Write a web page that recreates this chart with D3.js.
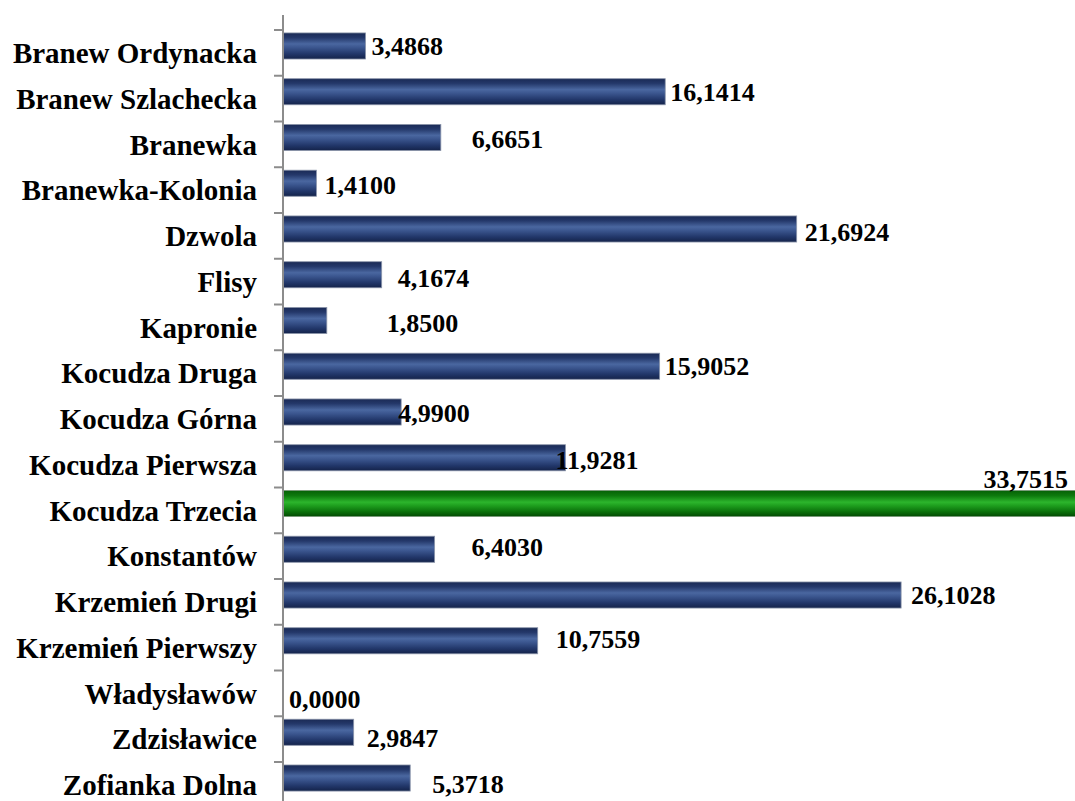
<!DOCTYPE html>
<html>
<head>
<meta charset="utf-8">
<script src="https://cdn.jsdelivr.net/npm/d3@7"></script>
<style>
  html, body { margin: 0; padding: 0; background: #ffffff; }
  svg { display: block; }
</style>
</head>
<body>
<svg id="chart" width="1075" height="801"></svg>
<script>
// ---- data ----
const categories = [
  "Branew Ordynacka", "Branew Szlachecka", "Branewka", "Branewka-Kolonia",
  "Dzwola", "Flisy", "Kapronie", "Kocudza Druga", "Kocudza Górna",
  "Kocudza Pierwsza", "Kocudza Trzecia", "Konstantów", "Krzemień Drugi",
  "Krzemień Pierwszy", "Władysławów", "Zdzisławice", "Zofianka Dolna"
];
const values = [
  3.4868, 16.1414, 6.6651, 1.4100, 21.6924, 4.1674, 1.8500, 15.9052, 4.9900,
  11.9281, 33.7515, 6.4030, 26.1028, 10.7559, 0.0000, 2.9847, 5.3718
];
const valueLabels = [
  "3,4868", "16,1414", "6,6651", "1,4100", "21,6924", "4,1674", "1,8500", "15,9052", "4,9900",
  "11,9281", "33,7515", "6,4030", "26,1028", "10,7559", "0,0000", "2,9847", "5,3718"
];
const highlighted = ["Kocudza Trzecia"];

// ---- layout (label nudges as placed in the original, in px) ----
const labelDx = [6, 5, 31, 8, 8, 16, 60, 5, -3, -10, 0, 37, 10, 18, 6, 13, 22];
const labelDy = [0, 0, 1, 2, 3, 3, 2, 0, 1, 2, -25, -2, 0, -2, 12, 6, 6];

const FONT = "'Liberation Serif', 'Times New Roman', Times, 'DejaVu Serif', serif";

const svg = d3.select("#chart");
const W = 1075, H = 801;
const axisX = 283;

const x = d3.scaleLinear().domain([0, 30]).range([axisX, axisX + 30 * 23.68]);
const y = d3.scaleBand().domain(categories).range([23.1, 800.9])
  .paddingInner(0.43).paddingOuter(0.215);

// gradients
const defs = svg.append("defs");
function grad(id, stops) {
  const g = defs.append("linearGradient").attr("id", id)
    .attr("x1", 0).attr("y1", 0).attr("x2", 0).attr("y2", 1);
  stops.forEach(s => g.append("stop").attr("offset", s[0]).attr("stop-color", s[1]));
}
grad("navy", [[0, "#1a2a55"], [0.18, "#24386a"], [0.42, "#4a67a0"], [0.55, "#3c5790"], [0.8, "#22376a"], [1, "#14234a"]]);
grad("green", [[0, "#066006"], [0.2, "#0d7a0d"], [0.45, "#2cb52c"], [0.58, "#1e9e1e"], [0.82, "#0a700a"], [1, "#034a03"]]);

// bars
svg.append("g").selectAll("rect").data(categories).join("rect")
  .attr("x", axisX)
  .attr("y", d => y(d))
  .attr("width", (d, i) => Math.max(0, x(values[i]) - axisX))
  .attr("height", y.bandwidth())
  .attr("fill", d => highlighted.includes(d) ? "url(#green)" : "url(#navy)")
  .attr("stroke", d => highlighted.includes(d) ? "#7a9a7a" : "#8a94aa")
  .attr("stroke-width", 0.8);

// axis
const axisG = svg.append("g");
axisG.append("line").attr("x1", axisX).attr("x2", axisX).attr("y1", 15).attr("y2", H)
  .attr("stroke", "#8c8c8c").attr("stroke-width", 2);
axisG.selectAll("line.tick").data(categories).join("line").attr("class", "tick")
  .attr("x1", axisX - 9).attr("x2", axisX)
  .attr("y1", d => y(d) + y.bandwidth() / 2 - 16)
  .attr("y2", d => y(d) + y.bandwidth() / 2 - 16)
  .attr("stroke", "#8c8c8c").attr("stroke-width", 2);

// category labels
svg.append("g").selectAll("text").data(categories).join("text")
  .attr("x", 257)
  .attr("y", d => y(d) + y.bandwidth() / 2 + 7)
  .attr("dy", "0.35em")
  .attr("text-anchor", "end")
  .style("font-family", FONT)
  .style("font-weight", "bold")
  .attr("font-size", 29)
  .attr("fill", "#000")
  .text(d => d);

// value labels
svg.append("g").selectAll("text").data(categories).join("text")
  .attr("x", (d, i) => highlighted.includes(d) ? 1068 : x(values[i]) + labelDx[i])
  .attr("y", (d, i) => y(d) + y.bandwidth() / 2 + labelDy[i])
  .attr("dy", "0.35em")
  .attr("text-anchor", d => highlighted.includes(d) ? "end" : "start")
  .style("font-family", FONT)
  .style("font-weight", "bold")
  .attr("font-size", 26)
  .attr("fill", "#000")
  .text((d, i) => valueLabels[i]);
</script>
</body>
</html>
